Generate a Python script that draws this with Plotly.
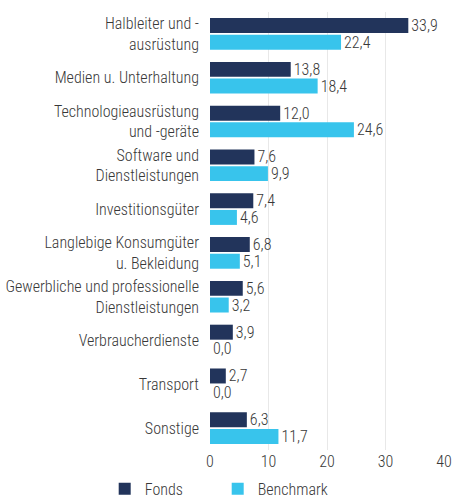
import plotly.graph_objects as go

categories = [
    "Halbleiter und -<br>ausrüstung",
    "Medien u. Unterhaltung",
    "Technologieausrüstung<br>und -geräte",
    "Software und<br>Dienstleistungen",
    "Investitionsgüter",
    "Langlebige Konsumgüter<br>u. Bekleidung",
    "Gewerbliche und professionelle<br>Dienstleistungen",
    "Verbraucherdienste",
    "Transport",
    "Sonstige",
]
fonds = [33.9, 13.8, 12.0, 7.6, 7.4, 6.8, 5.6, 3.9, 2.7, 6.3]
benchmark = [22.4, 18.4, 24.6, 9.9, 4.6, 5.1, 3.2, 0.0, 0.0, 11.7]
x_ticks = [0, 10, 20, 30, 40]

FONT = "Roboto Condensed, Liberation Sans Narrow, DejaVu Sans Condensed, sans-serif"
TXT = "#383838"
C_F = "#22345B"
C_B = "#38C4EC"
FS = 16
W = 300

fig = go.Figure()
fig.add_trace(go.Bar(
    y=categories, x=fonds, name="Fonds", orientation="h",
    marker=dict(color=C_F, line=dict(width=0)),
    text=fonds, texttemplate="%{x:.1f}", textposition="outside", constraintext="none",
    textfont=dict(size=FS, color=TXT, family=FONT, weight=W), cliponaxis=False,
))
fig.add_trace(go.Bar(
    y=categories, x=benchmark, name="Benchmark", orientation="h",
    marker=dict(color=C_B, line=dict(width=0)),
    text=benchmark, texttemplate="%{x:.1f}", textposition="outside", constraintext="none",
    textfont=dict(size=FS, color=TXT, family=FONT, weight=W), cliponaxis=False,
))

fig.update_layout(
    width=455, height=502,
    margin=dict(l=210, r=11, t=12, b=52, autoexpand=False),
    plot_bgcolor="white", paper_bgcolor="white",
    barmode="group", bargap=0.24, bargroupgap=0.1,
    separators=",.",
    font=dict(family=FONT, size=FS, color=TXT, weight=W),
    showlegend=True,
    legend=dict(orientation="h", x=-0.45, xanchor="left",
                y=-0.05, yanchor="top", entrywidth=68, entrywidthmode="pixels",
                font=dict(size=FS, color=TXT, family=FONT, weight=W),
                traceorder="normal"),
)
fig.update_xaxes(range=[0, 40], tickvals=x_ticks, showgrid=True, gridcolor="#e8e8e8",
                 gridwidth=1, zeroline=False, showline=False, ticks="", automargin=False,
                 tickfont=dict(size=FS, color=TXT, family=FONT, weight=W))
fig.update_yaxes(autorange="reversed", showgrid=False, ticks="", showline=False,
                 automargin=False, ticklabelstandoff=10,
                 tickfont=dict(size=FS, color=TXT, family=FONT, weight=W))

fig.write_html("out.html", config={"displayModeBar": False},
               post_script="document.body.style.margin='0';")
